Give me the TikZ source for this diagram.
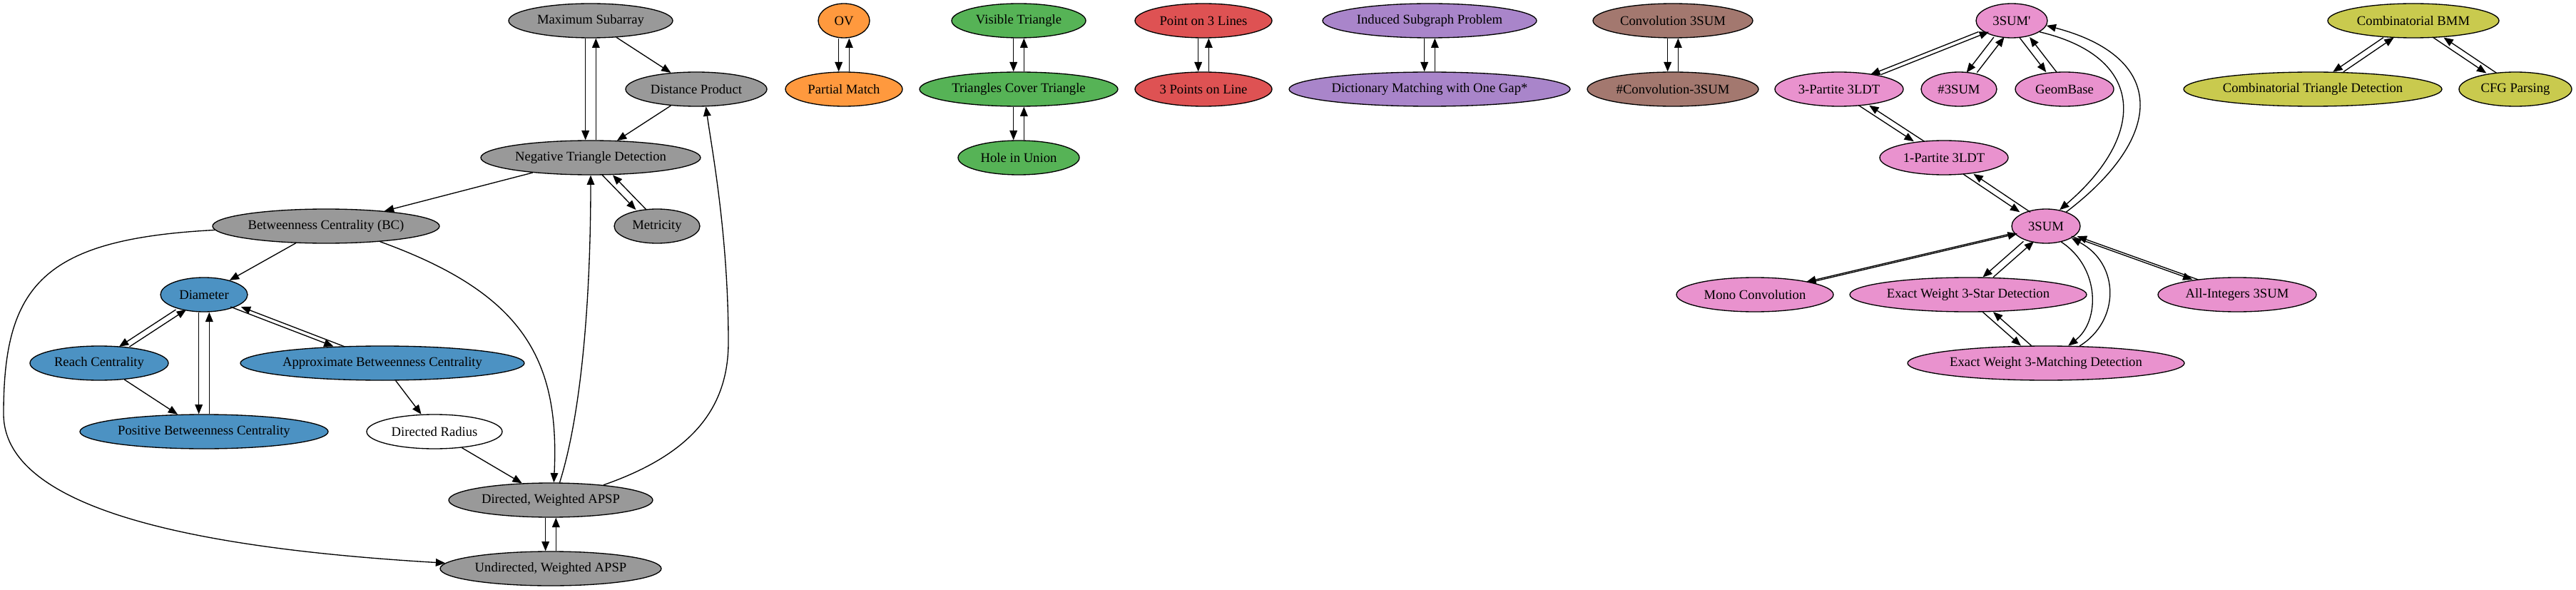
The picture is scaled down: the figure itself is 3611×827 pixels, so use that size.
\documentclass[tikz,border=0pt]{standalone}
\usepackage{fontspec}
\setmainfont{Liberation Serif}
\usetikzlibrary{shapes.geometric,arrows.meta}

\definecolor{tgray}{HTML}{999999}
\definecolor{tblue}{HTML}{4C92C3}
\definecolor{torange}{HTML}{FF993E}
\definecolor{tgreen}{HTML}{56B356}
\definecolor{tred}{HTML}{DE5253}
\definecolor{tpurple}{HTML}{A985CA}
\definecolor{tbrown}{HTML}{A3786F}
\definecolor{tpink}{HTML}{E992CE}
\definecolor{tolive}{HTML}{C9CA4E}

\tikzset{
    prob/.style={ellipse, draw, line width=1pt, minimum height=36pt, inner sep=0pt,
        font=\fontsize{14}{16}\selectfont},
    rx/.style={minimum width=#1*1.5pt},
    edge/.style={line width=1pt, -{Triangle[length=10pt,width=8pt]}},
    fwd/.style={edge, transform canvas={xshift=-#1}},
    fwd/.default=5.5pt,
    bwd/.style={edge, transform canvas={xshift=#1}},
    bwd/.default=5.5pt,
}

\begin{document}
\begin{tikzpicture}[x=0.75pt, y=-0.75pt]
    \useasboundingbox (0,0) rectangle (3611,827);
    % gray group
    \node[prob, fill=tgray, rx=115] (ms) at (828,29) {Maximum Subarray};
    \node[prob, fill=tgray, rx=99] (dp) at (976,125) {Distance Product};
    \node[prob, fill=tgray, rx=154] (ntd) at (828,221) {Negative Triangle Detection};
    \node[prob, fill=tgray, rx=60] (met) at (921,317) {Metricity};
    \node[prob, fill=tgray, rx=159] (bc) at (457,317) {Betweenness Centrality (BC)};
    \node[prob, fill=tblue, rx=61] (dia) at (286,413) {Diameter};
    \node[prob, fill=tblue, rx=97] (reach) at (139,509) {Reach Centrality};
    \node[prob, fill=tblue, rx=199] (abc) at (536,509) {Approximate Betweenness Centrality};
    \node[prob, fill=tblue, rx=174] (pbc) at (286,605) {Positive Betweenness Centrality};
    \node[prob, fill=white, rx=95] (dr) at (609,605) {Directed Radius};
    \node[prob, fill=tgray, rx=143] (dw) at (772,701) {Directed, Weighted APSP};
    \node[prob, fill=tgray, rx=155] (uw) at (772,797) {Undirected, Weighted APSP};
    % small groups
    \node[prob, fill=torange, rx=36] (ov) at (1183,29) {OV};
    \node[prob, fill=torange, rx=82] (pm) at (1183,125) {Partial Match};
    \node[prob, fill=tgreen, rx=94] (vt) at (1428,29) {Visible Triangle};
    \node[prob, fill=tgreen, rx=139] (tct) at (1428,125) {Triangles Cover Triangle};
    \node[prob, fill=tgreen, rx=85] (hu) at (1428,221) {Hole in Union};
    \node[prob, fill=tred, rx=96] (ptl) at (1687,29) {Point on 3 Lines};
    \node[prob, fill=tred, rx=96] (pol) at (1687,125) {3 Points on Line};
    \node[prob, fill=tpurple, rx=150] (isp) at (2004,29) {Induced Subgraph Problem};
    \node[prob, fill=tpurple, rx=197] (dm) at (2004,125) {Dictionary Matching with One Gap*};
    \node[prob, fill=tbrown, rx=112] (cs) at (2345,29) {Convolution 3SUM};
    \node[prob, fill=tbrown, rx=120] (ccs) at (2345,125) {\#Convolution-3SUM};
    % pink group
    \node[prob, fill=tpink, rx=50] (tsp) at (2820,29) {3SUM\textquotesingle};
    \node[prob, fill=tpink, rx=90] (tpl) at (2578,125) {3-Partite 3LDT};
    \node[prob, fill=tpink, rx=53] (nts) at (2746,125) {\#3SUM};
    \node[prob, fill=tpink, rx=69] (gb) at (2894,125) {GeomBase};
    \node[prob, fill=tpink, rx=90] (opl) at (2725,221) {1-Partite 3LDT};
    \node[prob, fill=tpink, rx=48] (ts) at (2868,317) {3SUM};
    \node[prob, fill=tpink, rx=110] (mono) at (2460,413) {Mono Convolution};
    \node[prob, fill=tpink, rx=166] (ews) at (2759,413) {Exact Weight 3-Star Detection};
    \node[prob, fill=tpink, rx=111] (ai) at (3136,413) {All-Integers 3SUM};
    \node[prob, fill=tpink, rx=194] (ewm) at (2868,509) {Exact Weight 3-Matching Detection};
    % olive group
    \node[prob, fill=tolive, rx=120] (bmm) at (3383,29) {Combinatorial BMM};
    \node[prob, fill=tolive, rx=181] (ctd) at (3242,125) {Combinatorial Triangle Detection};
    \node[prob, fill=tolive, rx=79] (cfg) at (3526,125) {CFG Parsing};

    % one-way reductions
    \draw[edge] (ms) -- (dp);
    \draw[edge] (dp) -- (ntd);
    \draw[edge] (ntd) -- (bc);
    \draw[edge] (bc) -- (dia);
    \draw[edge] (reach) -- (pbc);
    \draw[edge] (abc) -- (dr);
    \draw[edge] (dr) -- (dw);
    \draw[edge] (bc.-16) .. controls (730,410) and (785,500) .. (dw.80);
    \draw[edge] (dw.63) .. controls (815,580) and (828,420) .. (ntd.south);
    \draw[edge] (dw.16) .. controls (960,640) and (1021,580) .. (1021,480)
        .. controls (1021,330) and (998,210) .. (dp.-61);
    \draw[edge] (bc.182) .. controls (60,335) and (5,400) .. (5,580)
        .. controls (5,720) and (300,770) .. (uw.177);

    % equivalences, gray
    \draw[fwd] (ms) -- (ntd);
    \draw[bwd] (ntd) -- (ms);
    \draw[fwd] (ntd) -- (met);
    \draw[bwd] (met) -- (ntd);
    \draw[fwd] (dia) -- (reach);
    \draw[bwd] (reach) -- (dia);
    \draw[fwd] (dia) -- (pbc);
    \draw[bwd] (pbc) -- (dia);
    \draw[fwd] (dia) -- (abc);
    \draw[bwd] (abc) -- (dia);
    \draw[fwd] (dw) -- (uw);
    \draw[bwd] (uw) -- (dw);
    % equivalences, small groups
    \draw[fwd] (ov) -- (pm);
    \draw[bwd] (pm) -- (ov);
    \draw[fwd] (vt) -- (tct);
    \draw[bwd] (tct) -- (vt);
    \draw[fwd] (tct) -- (hu);
    \draw[bwd] (hu) -- (tct);
    \draw[fwd] (ptl) -- (pol);
    \draw[bwd] (pol) -- (ptl);
    \draw[fwd] (isp) -- (dm);
    \draw[bwd] (dm) -- (isp);
    \draw[fwd] (cs) -- (ccs);
    \draw[bwd] (ccs) -- (cs);
    % equivalences, pink
    \draw[fwd] (tsp) -- (tpl);
    \draw[bwd] (tpl) -- (tsp);
    \draw[fwd] (tsp) -- (nts);
    \draw[bwd] (nts) -- (tsp);
    \draw[fwd] (tsp) -- (gb);
    \draw[bwd] (gb) -- (tsp);
    \draw[fwd] (tpl) -- (opl);
    \draw[bwd] (opl) -- (tpl);
    \draw[fwd] (opl) -- (ts);
    \draw[bwd] (ts) -- (opl);
    \draw[fwd=3pt] (ts) -- (mono);
    \draw[bwd=3pt] (mono) -- (ts);
    \draw[fwd] (ts) -- (ews);
    \draw[bwd] (ews) -- (ts);
    \draw[fwd=3pt] (ts) -- (ai);
    \draw[bwd=3pt] (ai) -- (ts);
    \draw[fwd] (ews) -- (ewm);
    \draw[bwd] (ewm) -- (ews);
    \draw[edge] (tsp.-22) .. controls (3009,80) and (3009,190) .. (ts.50);
    \draw[edge] (ts.35) .. controls (3037,190) and (3037,80) .. (tsp.-8);
    \draw[edge] (ts.-46) .. controls (2944,375) and (2944,450) .. (ewm.38);
    \draw[edge] (ewm.27) .. controls (2972,450) and (2972,370) .. (ts.-25);
    % equivalences, olive
    \draw[fwd] (bmm) -- (ctd);
    \draw[bwd] (ctd) -- (bmm);
    \draw[fwd] (bmm) -- (cfg);
    \draw[bwd] (cfg) -- (bmm);
\end{tikzpicture}
\end{document}
